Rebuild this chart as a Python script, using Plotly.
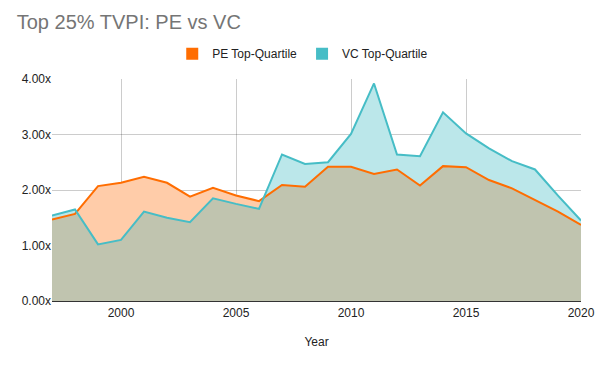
import plotly.graph_objects as go

years = list(range(1997, 2021))
pe_top = [1.47, 1.57, 2.07, 2.13, 2.24, 2.13, 1.88, 2.04, 1.90, 1.80, 2.09, 2.06,
          2.42, 2.42, 2.29, 2.37, 2.08, 2.43, 2.41, 2.18, 2.03, 1.82, 1.61, 1.37]
vc_top = [1.54, 1.65, 1.02, 1.10, 1.61, 1.50, 1.42, 1.85, 1.75, 1.66, 2.64, 2.47,
          2.50, 3.01, 3.92, 2.64, 2.61, 3.40, 3.02, 2.75, 2.52, 2.37, 1.90, 1.45]
x_ticks = [2000, 2005, 2010, 2015, 2020]
y_ticks = [0, 1, 2, 3, 4]
y_labels = ["0.00x", "1.00x", "2.00x", "3.00x", "4.00x"]

PE_LINE = "#FF6D01"
VC_LINE = "#46BDC6"
PE_FILL = "#FFCCA9"
VC_FILL = "#BBE7EA"
BOTH_FILL = "#C0C4AF"

# overlap region: pointwise minimum, including line-crossing points
ox, oy = [], []
for i in range(len(years)):
    ox.append(years[i]); oy.append(min(pe_top[i], vc_top[i]))
    if i < len(years) - 1:
        d0 = pe_top[i] - vc_top[i]
        d1 = pe_top[i + 1] - vc_top[i + 1]
        if d0 * d1 < 0:
            t = d0 / (d0 - d1)
            ox.append(years[i] + t)
            oy.append(pe_top[i] + t * (pe_top[i + 1] - pe_top[i]))

fig = go.Figure()
fig.add_trace(go.Scatter(x=years, y=vc_top, mode="lines", line=dict(width=0),
                         fill="tozeroy", fillcolor=VC_FILL, showlegend=False, hoverinfo="skip"))
fig.add_trace(go.Scatter(x=years, y=pe_top, mode="lines", line=dict(width=0),
                         fill="tozeroy", fillcolor=PE_FILL, showlegend=False, hoverinfo="skip"))
fig.add_trace(go.Scatter(x=ox, y=oy, mode="lines", line=dict(width=0),
                         fill="tozeroy", fillcolor=BOTH_FILL, showlegend=False, hoverinfo="skip"))
fig.add_trace(go.Scatter(x=years, y=pe_top, mode="lines", name="PE Top-Quartile",
                         line=dict(color=PE_LINE, width=2), showlegend=False))
fig.add_trace(go.Scatter(x=years, y=vc_top, mode="lines", name="VC Top-Quartile",
                         line=dict(color=VC_LINE, width=2), showlegend=False))
# legend swatches
fig.add_trace(go.Scatter(x=[None], y=[None], mode="markers", name="PE Top-Quartile",
                         marker=dict(symbol="square", size=11, color=PE_LINE)))
fig.add_trace(go.Scatter(x=[None], y=[None], mode="markers", name="VC Top-Quartile",
                         marker=dict(symbol="square", size=11, color=VC_LINE)))

fig.update_layout(
    width=597, height=368,
    margin=dict(l=52, r=16, t=79, b=67, autoexpand=False),
    paper_bgcolor="white", plot_bgcolor="white",
    font=dict(family="Liberation Sans, Arial, sans-serif", size=12, color="#222222"),
    title=dict(text="Top 25% TVPI: PE vs VC", x=0.028, xanchor="left", y=0.940, yanchor="middle",
               font=dict(size=20, color="#757575")),
    legend=dict(orientation="h", x=0.474, xanchor="center", y=1.114, yanchor="middle",
                font=dict(size=12, color="#222222"), itemsizing="constant",
                itemwidth=30, tracegroupgap=0),
    showlegend=True,
)
fig.update_xaxes(range=[1997, 2020], tickvals=x_ticks, ticktext=[str(v) for v in x_ticks],
                 showgrid=True, gridcolor="rgba(0,0,0,0.2)", gridwidth=1, zeroline=False,
                 showline=False, ticks="", layer="above traces", ticklabelstandoff=3,
                 title=dict(text="Year", font=dict(size=12, color="#222222"), standoff=18),
                 tickfont=dict(size=12, color="#222222"))
fig.update_yaxes(range=[0, 4], tickvals=y_ticks, ticktext=y_labels,
                 showgrid=True, gridcolor="rgba(0,0,0,0.2)", gridwidth=1,
                 zeroline=True, zerolinecolor="#333333", zerolinewidth=1,
                 showline=False, ticks="", layer="above traces",
                 tickfont=dict(size=12, color="#222222"))

fig.write_html("out.html", config={"displayModeBar": False},
               post_script="document.body.style.margin='0';document.body.style.overflow='hidden';")
